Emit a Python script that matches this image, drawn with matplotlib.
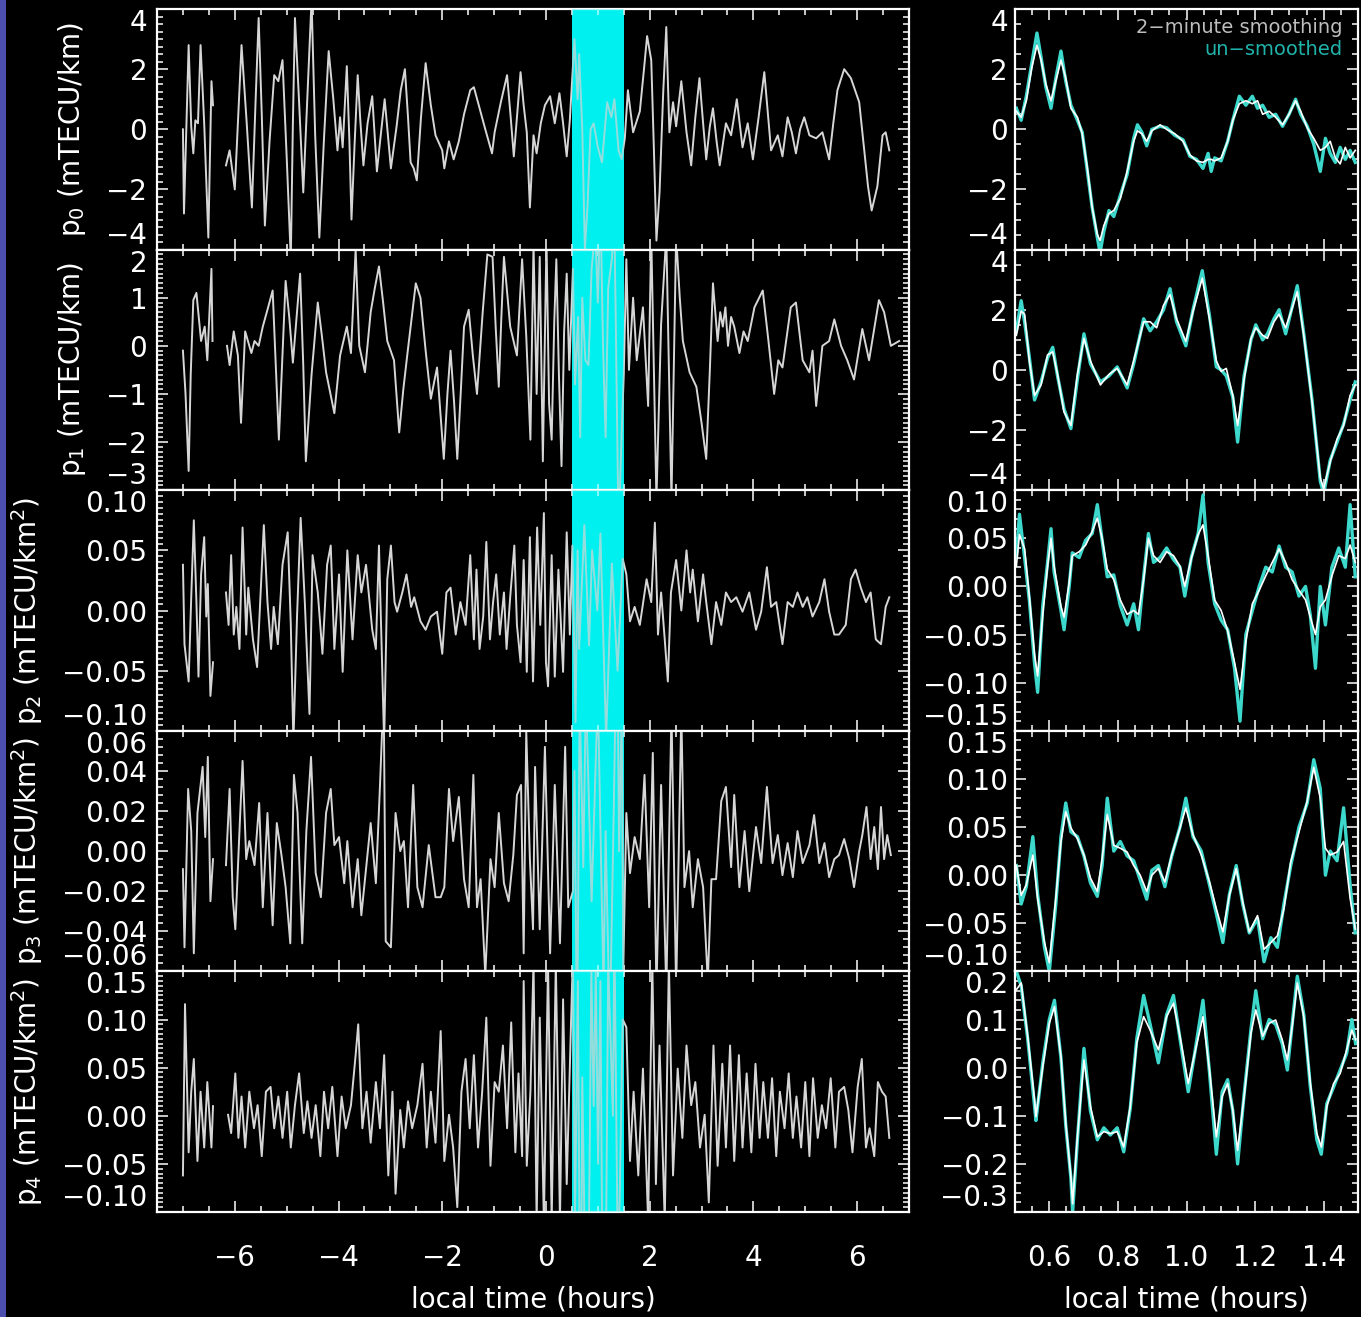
# TEC gradient components p0..p4 : whole night (left) and the 0.5-1.5 h window (right)

import numpy as np
import matplotlib.pyplot as plt
from matplotlib.ticker import MultipleLocator, FuncFormatter
from matplotlib.patches import Rectangle

nan = np.nan

# ------------------------------------------------------------------
# left column: (local time [h], value)
# ------------------------------------------------------------------
p0_left = [
    (-7.00, 0.0), (-6.98, -2.8), (-6.89, 2.8), (-6.84, 0.1), (-6.80, -0.8), (-6.76, 0.3), (-6.71, 0.2),
    (-6.66, 2.8), (-6.59, 0.2), (-6.51, -3.6), (-6.45, 1.6), (-6.42, 0.8), (-6.30, nan),
    (-6.17, -1.2), (-6.10, -0.7), (-6.00, -2.0), (-5.93, 0.6), (-5.87, 2.8), (-5.77, 0.2), (-5.67, -2.6),
    (-5.60, 0.9), (-5.54, 3.7), (-5.48, 0.5), (-5.42, -3.2), (-5.33, -0.4), (-5.24, 1.8), (-5.16, 1.6),
    (-5.08, 2.3), (-5.00, -0.9), (-4.92, -4.3), (-4.88, 0.2), (-4.84, 3.7), (-4.76, 0.9), (-4.68, -2.1),
    (-4.60, 1.1), (-4.52, 4.3), (-4.45, -0.2), (-4.37, -3.6), (-4.28, -0.3), (-4.19, 2.6), (-4.10, 1.0),
    (-4.02, -0.7), (-3.97, 0.4), (-3.92, -0.6), (-3.84, 2.1), (-3.79, -0.4), (-3.75, -3.0), (-3.69, -0.5),
    (-3.63, 1.8), (-3.58, 0.3), (-3.52, -1.2), (-3.44, 0.2), (-3.35, 1.1), (-3.26, -1.4), (-3.18, -0.1),
    (-3.11, 1.0), (-2.99, -1.3), (-2.88, 0.1), (-2.80, 1.3), (-2.72, 2.0), (-2.66, 0.4), (-2.61, -1.1),
    (-2.55, -1.3), (-2.49, -1.7), (-2.41, 0.4), (-2.32, 2.2), (-2.22, 0.8), (-2.13, -0.2), (-2.00, -0.7),
    (-1.96, -1.3), (-1.87, -0.4), (-1.78, -1.0), (-1.68, -0.4), (-1.58, 0.5), (-1.46, 1.3), (-1.39, 1.4),
    (-1.28, 0.7), (-1.17, 0.0), (-1.04, -0.8), (-0.99, -0.1), (-0.87, 0.9), (-0.75, 1.8), (-0.68, 0.4),
    (-0.62, -0.9), (-0.55, 0.6), (-0.49, 1.9), (-0.43, 0.8), (-0.37, -0.1), (-0.31, -2.6), (-0.24, -0.2),
    (-0.18, -0.8), (-0.10, 0.2), (-0.02, 0.8), (0.08, 1.1), (0.17, 0.2), (0.26, 1.2), (0.33, 0.2),
    (0.40, -0.9), (0.46, 0.3),
    (0.55, 3.0), (0.61, 1.0), (0.64, 2.5), (0.70, 0.0), (0.75, -4.0), (0.80, -2.6), (0.86, 0.0),
    (0.92, 0.2), (1.00, -0.6), (1.08, -1.1), (1.18, 0.9), (1.26, 0.4), (1.32, 1.0), (1.40, -0.7),
    (1.46, -1.0), (1.52, -0.3), (1.58, 1.3), (1.68, -0.1), (1.81, 0.6), (1.89, 2.0), (1.95, 3.1),
    (2.03, 2.3), (2.08, -0.6), (2.13, -3.7), (2.19, -2.1), (2.26, 1.2), (2.32, 3.4), (2.38, -0.1),
    (2.45, 0.9), (2.51, 0.1), (2.61, 1.6), (2.71, -0.1), (2.80, -1.2), (2.88, 0.4), (2.96, 1.7),
    (3.03, 0.2), (3.09, -1.0), (3.16, 0.1), (3.22, 0.7), (3.29, -0.4), (3.35, -1.2), (3.47, 0.2),
    (3.57, -0.2), (3.68, 1.0), (3.79, -0.6), (3.89, 0.2), (3.99, -1.0), (4.10, 0.4), (4.21, 1.9),
    (4.28, 0.5), (4.34, -0.7), (4.47, -0.2), (4.56, -0.9), (4.66, 0.4), (4.74, -0.1), (4.82, -0.8),
    (4.90, 0.0), (4.98, 0.4), (5.08, -0.2), (5.21, -0.3), (5.33, -0.1), (5.46, -1.0), (5.54, 0.2),
    (5.62, 1.3), (5.75, 2.0), (5.88, 1.7), (6.04, 0.9), (6.13, -0.6), (6.21, -1.9), (6.28, -2.7),
    (6.39, -1.9), (6.49, -0.2), (6.55, -0.1), (6.62, -0.7),
]

p1_left = [
    (-7.00, -0.1), (-6.95, -1.0), (-6.89, -2.6), (-6.85, -0.6), (-6.80, 0.95), (-6.74, 1.1), (-6.65, 0.1),
    (-6.58, 0.4), (-6.53, -0.3), (-6.45, 1.6), (-6.43, 0.1), (-6.30, nan),
    (-6.15, 0.0), (-6.10, -0.4), (-6.02, 0.3), (-5.94, -0.2), (-5.88, -1.6), (-5.80, 0.3), (-5.68, -0.15),
    (-5.62, 0.1), (-5.54, 0.0), (-5.46, 0.4), (-5.37, 0.75), (-5.27, 1.15), (-5.21, -0.4), (-5.15, -1.95),
    (-5.08, -0.2), (-5.02, 1.35), (-4.95, 0.6), (-4.88, -0.35), (-4.74, 1.5), (-4.68, -0.4), (-4.63, -2.4),
    (-4.52, -0.6), (-4.40, 0.9), (-4.32, 0.2), (-4.24, -0.55), (-4.08, -1.4), (-3.97, -0.2), (-3.84, 0.4),
    (-3.76, -0.15), (-3.67, 2.0), (-3.60, 0.0), (-3.49, -0.55), (-3.38, 0.7), (-3.30, 1.2), (-3.22, 1.65),
    (-3.14, 0.9), (-3.06, 0.1), (-2.93, -0.3), (-2.83, -1.8), (-2.75, -0.9), (-2.67, -0.15), (-2.51, 1.3),
    (-2.42, 1.0), (-2.32, -0.1), (-2.22, -1.1), (-2.10, -0.45), (-1.97, -2.35), (-1.90, -1.0),
    (-1.84, -0.1), (-1.77, -1.2), (-1.71, -2.35), (-1.64, -0.9), (-1.58, 0.4), (-1.49, 0.75), (-1.41, -0.2),
    (-1.33, -1.0), (-1.22, 0.7), (-1.13, 1.9), (-1.03, 1.85), (-0.97, 0.4), (-0.91, -0.85), (-0.86, 0.6),
    (-0.81, 1.85), (-0.69, 0.4), (-0.56, -0.2), (-0.46, 1.8), (-0.38, 0.2), (-0.30, -1.95), (-0.24, 2.1),
    (-0.18, -1.0), (-0.12, 1.85), (-0.06, -2.4), (0.01, 2.2), (0.06, -1.2), (0.11, -1.95), (0.16, 0.5),
    (0.20, 1.8), (0.25, -0.6), (0.30, -2.5), (0.35, 0.3), (0.40, 1.5), (0.45, -0.5),
    (0.52, 1.6), (0.56, -0.8), (0.62, 0.6), (0.66, -1.9), (0.70, 1.0), (0.76, -0.3), (0.82, -0.4),
    (0.88, 1.6), (0.95, 2.4), (1.00, 0.9), (1.05, 3.0), (1.10, 0.0), (1.15, -1.9), (1.20, 1.2),
    (1.27, 1.8), (1.32, 2.6), (1.40, -3.9), (1.46, -1.8), (1.50, -0.6),
    (1.55, 1.8), (1.60, -0.5), (1.68, 1.0), (1.75, -0.3), (1.87, 0.8), (1.97, -1.25), (2.03, 2.3),
    (2.13, -3.2), (2.22, 0.45), (2.32, 2.3), (2.42, -3.2), (2.51, 2.3), (2.58, 1.0), (2.64, 0.1),
    (2.77, -0.55), (2.90, -0.85), (3.00, -1.6), (3.09, -2.35), (3.16, -0.5), (3.22, 1.3), (3.31, 0.1),
    (3.36, 0.7), (3.41, 0.4), (3.46, 0.8), (3.51, 0.0), (3.57, 0.6), (3.63, 0.4), (3.73, -0.15),
    (3.81, 0.3), (3.89, 0.1), (4.02, 0.8), (4.18, 1.15), (4.29, 0.1), (4.40, -1.0), (4.48, -0.3),
    (4.56, -0.45), (4.72, 0.8), (4.82, 0.9), (4.95, -0.3), (5.08, -0.55), (5.14, -0.1), (5.21, -1.25),
    (5.33, 0.0), (5.46, 0.1), (5.56, 0.55), (5.69, 0.0), (5.81, -0.3), (5.94, -0.7), (6.10, 0.35),
    (6.23, -0.3), (6.42, 0.95), (6.52, 0.7), (6.65, 0.0), (6.81, 0.1),
]

p2_left = [
    (-7.00, 0.038), (-6.97, -0.028), (-6.89, -0.059), (-6.84, 0.011), (-6.79, 0.075), (-6.74, 0.007),
    (-6.70, -0.055), (-6.65, 0.030), (-6.59, 0.061), (-6.55, -0.005), (-6.52, 0.022), (-6.47, -0.071),
    (-6.42, -0.043), (-6.30, nan),
    (-6.17, 0.015), (-6.12, -0.012), (-6.07, 0.046), (-6.02, -0.020), (-5.97, 0.003), (-5.91, -0.032),
    (-5.85, 0.069), (-5.78, -0.020), (-5.74, 0.019), (-5.65, -0.024), (-5.57, -0.047), (-5.44, 0.071),
    (-5.37, 0.007), (-5.30, -0.032), (-5.25, 0.003), (-5.17, -0.028), (-5.08, 0.038), (-4.98, 0.065),
    (-4.92, -0.012), (-4.87, -0.110), (-4.80, -0.005), (-4.73, 0.077), (-4.65, 0.007), (-4.56, -0.086),
    (-4.50, 0.046), (-4.40, 0.015), (-4.31, -0.036), (-4.22, 0.038), (-4.15, 0.054), (-4.08, -0.032),
    (-3.99, 0.030), (-3.92, -0.051), (-3.83, 0.050), (-3.73, -0.024), (-3.63, 0.046), (-3.56, 0.015),
    (-3.47, 0.038), (-3.35, -0.016), (-3.28, -0.032), (-3.22, 0.054), (-3.12, -0.110), (-3.06, 0.026),
    (-2.99, 0.054), (-2.92, 0.007), (-2.87, -0.001), (-2.77, 0.015), (-2.69, 0.030), (-2.60, 0.003),
    (-2.54, 0.011), (-2.42, -0.009), (-2.32, -0.016), (-2.22, -0.005), (-2.10, -0.001), (-2.00, -0.036),
    (-1.92, 0.015), (-1.84, 0.019), (-1.74, -0.020), (-1.65, 0.007), (-1.55, -0.012), (-1.46, 0.046),
    (-1.39, -0.024), (-1.34, 0.034), (-1.28, -0.032), (-1.21, -0.005), (-1.15, 0.057), (-1.08, -0.024),
    (-1.02, 0.007), (-0.96, 0.030), (-0.89, -0.020), (-0.81, 0.015), (-0.76, -0.032), (-0.69, 0.011),
    (-0.61, 0.054), (-0.56, -0.012), (-0.49, -0.043), (-0.43, 0.042), (-0.37, -0.051), (-0.31, 0.061),
    (-0.25, -0.059), (-0.17, 0.069), (-0.11, -0.012), (-0.04, 0.081), (0.00, -0.043), (0.04, -0.063),
    (0.11, 0.046), (0.17, -0.055), (0.24, 0.034), (0.33, -0.051), (0.40, 0.065), (0.46, -0.020),
    (0.51, 0.054), (0.57, -0.093), (0.61, 0.050), (0.64, -0.032), (0.74, 0.071), (0.83, -0.029),
    (0.89, 0.050), (0.99, 0.000), (1.05, 0.064), (1.16, -0.107), (1.27, 0.039), (1.38, -0.050),
    (1.48, 0.043),
    (1.55, 0.030), (1.62, -0.009), (1.71, 0.003), (1.81, -0.012), (1.94, 0.026), (2.03, 0.007),
    (2.10, 0.073), (2.16, -0.020), (2.22, 0.015), (2.29, -0.024), (2.35, -0.059), (2.41, 0.015),
    (2.51, 0.042), (2.61, 0.000), (2.71, 0.050), (2.78, 0.015), (2.83, 0.034), (2.93, -0.009),
    (3.03, 0.030), (3.09, 0.007), (3.19, -0.028), (3.28, 0.007), (3.38, -0.012), (3.47, 0.015),
    (3.57, 0.007), (3.67, 0.011), (3.79, -0.001), (3.92, 0.015), (4.05, -0.016), (4.15, -0.001),
    (4.26, 0.036), (4.34, 0.003), (4.44, 0.007), (4.56, -0.028), (4.66, 0.007), (4.76, 0.003),
    (4.85, 0.015), (4.95, 0.003), (5.04, 0.011), (5.14, -0.005), (5.27, 0.007), (5.37, 0.026),
    (5.46, -0.001), (5.56, -0.020), (5.65, -0.020), (5.78, -0.012), (5.88, 0.026), (5.97, 0.034),
    (6.07, 0.019), (6.17, 0.007), (6.26, 0.015), (6.36, -0.024), (6.46, -0.028), (6.55, 0.003),
    (6.62, 0.011),
]

p3_left = [
    (-7.00, -0.009), (-6.97, -0.048), (-6.90, 0.031), (-6.84, 0.010), (-6.79, -0.051), (-6.72, 0.019),
    (-6.66, 0.033), (-6.62, 0.042), (-6.57, 0.007), (-6.52, 0.047), (-6.47, -0.025), (-6.42, -0.004),
    (-6.30, nan),
    (-6.17, -0.007), (-6.10, 0.031), (-6.04, -0.023), (-5.99, -0.039), (-5.91, 0.010), (-5.85, 0.045),
    (-5.78, -0.004), (-5.72, 0.005), (-5.62, -0.007), (-5.53, 0.024), (-5.46, -0.028), (-5.37, 0.019),
    (-5.27, -0.037), (-5.19, 0.014), (-5.10, -0.002), (-5.02, -0.018), (-4.93, -0.046), (-4.86, 0.038),
    (-4.79, 0.019), (-4.70, -0.046), (-4.62, 0.010), (-4.53, 0.047), (-4.44, -0.011), (-4.34, -0.023),
    (-4.24, 0.019), (-4.15, 0.031), (-4.08, 0.003), (-3.99, 0.007), (-3.89, -0.016), (-3.83, 0.005),
    (-3.73, -0.028), (-3.63, -0.004), (-3.56, -0.032), (-3.47, -0.009), (-3.38, 0.014), (-3.28, -0.016),
    (-3.20, 0.033), (-3.13, 0.080), (-3.09, -0.045), (-2.99, -0.048), (-2.90, 0.019), (-2.81, 0.000),
    (-2.74, 0.005), (-2.66, -0.028), (-2.56, 0.033), (-2.48, -0.018), (-2.38, -0.028), (-2.26, 0.003),
    (-2.13, -0.023), (-2.03, -0.023), (-1.96, -0.018), (-1.87, 0.031), (-1.79, 0.005), (-1.68, 0.027),
    (-1.58, -0.014), (-1.49, -0.028), (-1.40, 0.038), (-1.33, -0.028), (-1.26, -0.014), (-1.17, -0.062),
    (-1.07, -0.004), (-0.99, -0.018), (-0.91, 0.019), (-0.81, -0.016), (-0.72, -0.025), (-0.63, -0.002),
    (-0.56, 0.028), (-0.48, 0.033), (-0.43, -0.051), (-0.38, 0.060), (-0.31, -0.004), (-0.25, -0.039),
    (-0.21, 0.042), (-0.12, -0.039), (-0.02, 0.052), (0.08, -0.051), (0.17, 0.033), (0.27, -0.046),
    (0.37, 0.052), (0.43, -0.028),
    (0.52, -0.020), (0.55, 0.040), (0.60, -0.100), (0.65, 0.075), (0.72, -0.008), (0.77, 0.080),
    (0.88, -0.025), (1.00, 0.080), (1.11, -0.070), (1.15, 0.010), (1.23, -0.090), (1.30, 0.010),
    (1.37, 0.120), (1.41, 0.000), (1.46, 0.070), (1.49, -0.060),
    (1.55, 0.019), (1.62, -0.011), (1.71, 0.007), (1.81, -0.004), (1.90, 0.038), (1.99, -0.028),
    (2.06, 0.049), (2.13, -0.070), (2.22, 0.033), (2.32, -0.070), (2.42, 0.070), (2.51, -0.070),
    (2.61, 0.070), (2.67, -0.018), (2.76, 0.000), (2.83, -0.028), (2.93, -0.004), (3.03, -0.018),
    (3.12, -0.065), (3.19, -0.014), (3.28, -0.014), (3.38, 0.025), (3.47, 0.032), (3.57, -0.008),
    (3.63, 0.028), (3.73, -0.018), (3.83, 0.010), (3.92, -0.020), (4.05, 0.012), (4.15, -0.006),
    (4.26, 0.032), (4.37, -0.006), (4.47, 0.008), (4.56, -0.012), (4.66, 0.004), (4.76, -0.013),
    (4.85, 0.010), (4.95, -0.006), (5.08, 0.003), (5.17, 0.018), (5.27, -0.006), (5.37, 0.004),
    (5.46, -0.013), (5.56, -0.004), (5.65, -0.002), (5.75, 0.006), (5.85, -0.004), (5.94, -0.018),
    (6.04, 0.000), (6.10, 0.008), (6.18, 0.022), (6.26, -0.004), (6.33, 0.012), (6.40, -0.009),
    (6.46, 0.022), (6.52, -0.004), (6.58, 0.008), (6.65, -0.002),
]

p4_left = [
    (-7.00, -0.062), (-6.96, 0.116), (-6.89, -0.038), (-6.84, 0.025), (-6.79, 0.059), (-6.72, -0.047),
    (-6.66, 0.025), (-6.59, -0.033), (-6.53, 0.035), (-6.45, -0.033), (-6.42, 0.010), (-6.30, nan),
    (-6.13, 0.001), (-6.07, -0.018), (-5.99, 0.044), (-5.93, -0.023), (-5.87, 0.020), (-5.80, -0.033),
    (-5.72, 0.025), (-5.63, -0.013), (-5.56, 0.011), (-5.48, -0.042), (-5.40, 0.025), (-5.31, 0.030),
    (-5.24, -0.013), (-5.16, 0.020), (-5.08, -0.023), (-4.99, 0.025), (-4.92, -0.033), (-4.84, 0.011),
    (-4.76, 0.044), (-4.67, -0.018), (-4.60, 0.015), (-4.52, -0.023), (-4.44, 0.011), (-4.35, -0.042),
    (-4.28, 0.025), (-4.20, -0.013), (-4.12, 0.030), (-4.02, -0.042), (-3.94, 0.020), (-3.86, -0.013),
    (-3.76, 0.011), (-3.67, 0.063), (-3.62, 0.095), (-3.54, -0.013), (-3.46, 0.025), (-3.38, -0.028),
    (-3.28, 0.035), (-3.20, -0.013), (-3.12, 0.063), (-3.04, -0.062), (-2.96, 0.025), (-2.90, -0.081),
    (-2.81, 0.006), (-2.74, -0.033), (-2.66, 0.015), (-2.58, -0.013), (-2.48, 0.011), (-2.38, 0.054),
    (-2.30, -0.033), (-2.22, 0.025), (-2.13, -0.028), (-2.03, 0.088), (-1.96, -0.047), (-1.87, 0.001),
    (-1.79, -0.033), (-1.71, -0.095), (-1.63, 0.025), (-1.55, 0.059), (-1.47, -0.013), (-1.39, 0.063),
    (-1.31, -0.033), (-1.23, 0.025), (-1.15, 0.102), (-1.07, -0.052), (-0.99, 0.035), (-0.91, 0.025),
    (-0.83, 0.073), (-0.75, -0.013), (-0.67, 0.097), (-0.59, -0.038), (-0.53, 0.044), (-0.46, -0.042),
    (-0.43, 0.140), (-0.37, -0.052), (-0.30, 0.025), (-0.24, 0.160), (-0.18, -0.110), (-0.12, 0.102),
    (-0.04, -0.110), (0.04, 0.160), (0.11, -0.110), (0.19, 0.160), (0.27, -0.110), (0.33, 0.121),
    (0.40, -0.071), (0.46, 0.050),
    (0.52, 0.170), (0.56, -0.110), (0.615, 0.140), (0.668, -0.300), (0.70, 0.040), (0.75, -0.140),
    (0.82, -0.170), (0.875, 0.150), (0.92, 0.010), (0.96, 0.150), (1.005, -0.050), (1.05, 0.140),
    (1.09, -0.180), (1.15, -0.200), (1.20, 0.160), (1.29, 0.000), (1.32, 0.190), (1.39, -0.180),
    (1.48, 0.100),
    (1.55, 0.092), (1.62, -0.047), (1.69, 0.025), (1.78, -0.062), (1.87, 0.049), (1.97, -0.110),
    (2.05, 0.160), (2.12, -0.071), (2.19, 0.073), (2.29, -0.110), (2.37, 0.160), (2.45, -0.062),
    (2.54, 0.049), (2.63, -0.023), (2.71, 0.073), (2.80, 0.011), (2.88, 0.035), (2.97, -0.033),
    (3.06, 0.001), (3.14, -0.090), (3.23, 0.073), (3.31, -0.052), (3.40, 0.054), (3.47, -0.033),
    (3.55, 0.073), (3.63, -0.047), (3.72, 0.063), (3.79, -0.033), (3.87, 0.044), (3.96, -0.038),
    (4.04, 0.054), (4.12, -0.023), (4.19, 0.035), (4.28, -0.023), (4.36, 0.039), (4.44, -0.042),
    (4.51, 0.025), (4.60, -0.013), (4.68, 0.044), (4.76, -0.023), (4.83, 0.020), (4.92, -0.033),
    (5.00, 0.035), (5.08, -0.042), (5.15, 0.039), (5.24, -0.023), (5.32, 0.011), (5.40, -0.013),
    (5.49, 0.039), (5.58, -0.033), (5.65, 0.025), (5.75, 0.030), (5.83, 0.006), (5.91, -0.038),
    (6.01, 0.030), (6.09, 0.059), (6.17, -0.033), (6.24, -0.013), (6.33, -0.042), (6.40, 0.035),
    (6.48, 0.025), (6.55, 0.020), (6.62, -0.023),
]

# ------------------------------------------------------------------
# right column: (local time [h], 2-minute smoothed, un-smoothed)
# ------------------------------------------------------------------
p0_right = [
    (0.504, 0.60, 0.70), (0.518, 0.40, 0.30), (0.533, 0.95, 1.10), (0.549, 2.05, 2.20), (0.564, 2.80, 3.20),
    (0.576, 2.30, 2.40), (0.590, 1.50, 1.40), (0.605, 0.95, 0.70), (0.619, 1.60, 1.70), (0.634, 2.30, 2.60),
    (0.648, 1.70, 1.60), (0.663, 0.70, 0.80), (0.682, 0.40, 0.30), (0.696, -0.15, -0.10), (0.711, -1.30, -1.40),
    (0.725, -2.60, -2.60), (0.740, -3.50, -3.60), (0.748, -3.70, -4.10), (0.759, -3.20, -3.40),
    (0.774, -2.80, -2.70), (0.788, -2.70, -2.90), (0.807, -2.30, -2.20), (0.827, -1.40, -1.50),
    (0.846, -0.40, -0.30), (0.857, -0.05, 0.15), (0.870, -0.15, -0.10), (0.884, -0.40, -0.55),
    (0.899, -0.05, 0.00), (0.923, 0.15, 0.10), (0.942, 0.00, 0.05), (0.966, -0.15, -0.20),
    (0.990, -0.40, -0.35), (1.010, -0.85, -0.90), (1.029, -1.05, -1.00), (1.048, -1.10, -1.30),
    (1.063, -1.00, -0.80), (1.072, -1.00, -1.40), (1.082, -1.05, -0.95), (1.101, -0.95, -1.05),
    (1.120, -0.40, -0.40), (1.135, 0.30, 0.30), (1.154, 0.85, 1.10), (1.173, 0.95, 0.80),
    (1.192, 0.85, 1.10), (1.207, 0.95, 0.70), (1.222, 0.50, 0.80), (1.241, 0.60, 0.40), (1.260, 0.40, 0.50),
    (1.280, 0.15, 0.10), (1.299, 0.50, 0.50), (1.318, 0.95, 1.00), (1.333, 0.60, 0.50), (1.352, 0.05, 0.10),
    (1.371, -0.30, -0.50), (1.390, -0.70, -1.40), (1.405, -0.60, -0.30), (1.419, -0.40, -0.80),
    (1.434, -0.95, -1.10), (1.448, -1.15, -0.60), (1.463, -0.60, -1.00), (1.477, -0.95, -0.70),
    (1.492, -0.70, -1.10),
]

p1_right = [
    (0.504, 1.15, 1.30), (0.518, 1.95, 2.30), (0.528, 1.85, 1.60), (0.542, 0.30, 0.40), (0.557, -0.85, -1.00),
    (0.576, -0.50, -0.40), (0.595, 0.50, 0.40), (0.610, 0.60, 0.75), (0.624, -0.15, -0.20), (0.643, -1.40, -1.30),
    (0.663, -1.85, -1.95), (0.682, -0.15, -0.30), (0.701, 1.05, 1.20), (0.720, 0.30, 0.20), (0.749, -0.50, -0.40),
    (0.774, -0.15, -0.20), (0.798, 0.05, 0.10), (0.827, -0.50, -0.60), (0.846, 0.30, 0.20), (0.875, 1.60, 1.70),
    (0.894, 1.60, 1.30), (0.913, 1.40, 1.60), (0.933, 2.15, 2.00), (0.952, 2.50, 2.70), (0.971, 1.70, 1.60),
    (0.998, 0.95, 0.80), (1.019, 1.95, 2.00), (1.046, 3.05, 3.30), (1.067, 1.70, 1.80), (1.087, 0.30, 0.10),
    (1.101, -0.05, 0.00), (1.116, 0.05, -0.20), (1.135, -0.85, -0.90), (1.149, -1.85, -2.40),
    (1.168, -0.30, -0.20), (1.188, 1.05, 1.00), (1.202, 1.40, 1.50), (1.222, 1.15, 1.00), (1.236, 1.05, 1.20),
    (1.255, 1.60, 1.70), (1.270, 1.85, 2.00), (1.289, 1.40, 1.20), (1.308, 2.05, 2.10), (1.323, 2.60, 2.80),
    (1.342, 1.15, 1.20), (1.366, -1.05, -1.00), (1.390, -3.60, -3.70), (1.400, -3.95, -4.10),
    (1.419, -3.05, -3.00), (1.439, -2.30, -2.40), (1.458, -1.85, -1.80), (1.477, -0.85, -1.00),
    (1.492, -0.50, -0.40),
]

p2_right = [
    (0.504, 0.021, 0.030), (0.513, 0.054, 0.075), (0.528, 0.039, 0.030), (0.542, -0.011, -0.015),
    (0.557, -0.071, -0.080), (0.566, -0.093, -0.110), (0.581, -0.029, -0.020), (0.595, 0.021, 0.025),
    (0.605, 0.050, 0.060), (0.614, 0.021, 0.015), (0.634, -0.021, -0.025), (0.643, -0.032, -0.045),
    (0.658, 0.004, 0.000), (0.667, 0.032, 0.035), (0.687, 0.036, 0.030), (0.706, 0.043, 0.048),
    (0.725, 0.057, 0.055), (0.740, 0.071, 0.085), (0.754, 0.050, 0.048), (0.769, 0.018, 0.010),
    (0.788, 0.007, 0.012), (0.807, -0.014, -0.020), (0.827, -0.029, -0.040), (0.846, -0.025, -0.018),
    (0.860, -0.029, -0.045), (0.875, 0.007, 0.010), (0.889, 0.050, 0.055), (0.904, 0.032, 0.025),
    (0.923, 0.025, 0.030), (0.942, 0.036, 0.040), (0.962, 0.032, 0.028), (0.981, 0.021, 0.020),
    (0.995, 0.000, -0.010), (1.014, 0.029, 0.030), (1.034, 0.054, 0.055), (1.048, 0.064, 0.095),
    (1.063, 0.032, 0.025), (1.082, -0.014, -0.018), (1.101, -0.025, -0.035), (1.120, -0.046, -0.045),
    (1.140, -0.079, -0.085), (1.156, -0.107, -0.140), (1.173, -0.057, -0.050), (1.192, -0.018, -0.025),
    (1.212, -0.004, 0.000), (1.231, 0.011, 0.020), (1.250, 0.025, 0.015), (1.270, 0.039, 0.042),
    (1.289, 0.025, 0.020), (1.308, 0.007, 0.015), (1.328, -0.004, -0.010), (1.347, -0.014, 0.000),
    (1.361, -0.032, -0.030), (1.376, -0.050, -0.085), (1.390, -0.021, 0.000), (1.405, -0.014, -0.040),
    (1.424, 0.011, 0.020), (1.444, 0.032, 0.040), (1.463, 0.029, 0.020), (1.477, 0.043, 0.085),
    (1.492, 0.025, 0.010),
]

p3_right = [
    (0.504, 0.010, 0.010), (0.518, -0.021, -0.030), (0.533, -0.010, -0.012), (0.552, 0.021, 0.040),
    (0.566, -0.024, -0.020), (0.586, -0.070, -0.075), (0.600, -0.091, -0.100), (0.619, -0.024, -0.030),
    (0.634, 0.035, 0.040), (0.648, 0.066, 0.075), (0.663, 0.049, 0.045), (0.682, 0.038, 0.040),
    (0.701, 0.021, 0.020), (0.720, -0.003, -0.008), (0.740, -0.017, -0.022), (0.754, 0.017, 0.010),
    (0.769, 0.063, 0.080), (0.788, 0.031, 0.025), (0.807, 0.028, 0.035), (0.827, 0.024, 0.020),
    (0.846, 0.010, 0.015), (0.865, 0.000, -0.005), (0.884, -0.017, -0.025), (0.899, 0.000, 0.005),
    (0.918, 0.007, 0.010), (0.937, -0.007, -0.012), (0.957, 0.021, 0.020), (0.981, 0.049, 0.050),
    (0.998, 0.070, 0.080), (1.019, 0.042, 0.040), (1.043, 0.021, 0.025), (1.067, -0.007, -0.010),
    (1.087, -0.035, -0.040), (1.106, -0.059, -0.070), (1.125, -0.021, -0.020), (1.145, 0.007, 0.010),
    (1.164, -0.028, -0.030), (1.183, -0.059, -0.060), (1.207, -0.042, -0.045), (1.226, -0.077, -0.090),
    (1.246, -0.070, -0.065), (1.265, -0.063, -0.075), (1.284, -0.035, -0.030), (1.304, 0.014, 0.010),
    (1.328, 0.045, 0.050), (1.352, 0.077, 0.075), (1.371, 0.112, 0.120), (1.390, 0.080, 0.090),
    (1.405, 0.028, 0.000), (1.419, 0.021, 0.025), (1.439, 0.024, 0.015), (1.458, 0.035, 0.070),
    (1.477, -0.024, -0.010), (1.492, -0.056, -0.060),
]

p4_right = [
    (0.504, 0.162, 0.200), (0.518, 0.176, 0.170), (0.537, 0.065, 0.060), (0.557, -0.067, -0.080),
    (0.561, -0.102, -0.110), (0.581, 0.002, 0.010), (0.600, 0.092, 0.100), (0.615, 0.127, 0.140),
    (0.634, 0.023, 0.020), (0.648, -0.116, -0.120), (0.663, -0.227, -0.230), (0.668, -0.283, -0.300),
    (0.682, -0.144, -0.150), (0.701, 0.016, 0.040), (0.720, -0.081, -0.090), (0.740, -0.144, -0.150),
    (0.759, -0.133, -0.125), (0.778, -0.137, -0.140), (0.798, -0.133, -0.125), (0.817, -0.165, -0.175),
    (0.836, -0.081, -0.085), (0.855, 0.051, 0.060), (0.875, 0.106, 0.150), (0.894, 0.078, 0.090),
    (0.918, 0.037, 0.010), (0.942, 0.106, 0.110), (0.962, 0.134, 0.150), (0.981, 0.065, 0.060),
    (1.005, -0.033, -0.050), (1.024, 0.030, 0.030), (1.048, 0.106, 0.140), (1.067, -0.005, -0.010),
    (1.087, -0.144, -0.180), (1.104, -0.060, -0.050), (1.120, -0.033, -0.025), (1.135, -0.088, -0.090),
    (1.149, -0.172, -0.200), (1.168, -0.060, -0.055), (1.188, 0.072, 0.080), (1.202, 0.120, 0.160),
    (1.222, 0.065, 0.060), (1.241, 0.092, 0.100), (1.260, 0.099, 0.090), (1.279, 0.058, 0.050),
    (1.294, 0.016, -0.005), (1.308, 0.085, 0.090), (1.323, 0.176, 0.190), (1.342, 0.106, 0.110),
    (1.361, -0.033, -0.040), (1.380, -0.137, -0.150), (1.393, -0.165, -0.180), (1.409, -0.081, -0.075),
    (1.429, -0.033, -0.040), (1.448, -0.012, -0.005), (1.467, 0.037, 0.030), (1.482, 0.078, 0.100),
    (1.493, 0.058, 0.050),
]

left_series = [p0_left, p1_left, p2_left, p3_left, p4_left]
right_series = [p0_right, p1_right, p2_right, p3_right, p4_right]

ylabels = [r'p$_0$ (mTECU/km)', r'p$_1$ (mTECU/km)', r'p$_2$ (mTECU/km$^2$)',
           r'p$_3$ (mTECU/km$^2$)', r'p$_4$ (mTECU/km$^2$)']

left_ylim = [(-4, 4), (-3, 2), (-0.10, 0.10), (-0.06, 0.06), (-0.10, 0.15)]
left_major = [2, 1, 0.05, 0.02, 0.05]
left_minor = [0.25, 0.1, 0.005, 0.004, 0.005]
left_fmt = ['{:.0f}', '{:.0f}', '{:.2f}', '{:.2f}', '{:.2f}']

right_ylim = [(-4, 4), (-4, 4), (-0.15, 0.10), (-0.10, 0.15), (-0.3, 0.2)]
right_major = [2, 2, 0.05, 0.05, 0.1]
right_minor = [0.5, 0.5, 0.01, 0.01, 0.02]
right_fmt = ['{:.0f}', '{:.0f}', '{:.2f}', '{:.2f}', '{:.1f}']

band = (0.5, 1.5)

# colours
BG = 'black'
LINE = '#d6d6d6'
BAND = '#00f0f0'
RAW = '#3cd8cc'
TXT = 'white'


def tick_fmt(f):
    def _f(v, pos):
        s = f.format(round(v, 6) + 0.0)
        if s.lstrip('-').strip('0.') == '':
            s = s.lstrip('-')
        return s.replace('-', '\u2212')
    return FuncFormatter(_f)


def style_axis(ax):
    ax.set_facecolor(BG)
    for sp in ax.spines.values():
        sp.set_color(TXT)
        sp.set_linewidth(1.6)
    ax.tick_params(which='both', direction='in', top=True, right=True,
                   colors=TXT, labelcolor=TXT, labelsize=20, width=1.1)
    ax.tick_params(which='major', length=8)
    ax.tick_params(which='minor', length=4)
    ax.tick_params(axis='y', pad=7)
    ax.tick_params(axis='x', pad=23)


W, H = 1361, 1317
fig = plt.figure(figsize=(W / 100, H / 100), dpi=100, facecolor=BG)
plt.rcParams['font.family'] = 'DejaVu Sans'

# slide background peeking in on the far left
fig.patches.append(Rectangle((0, 0), 6 / W, 1, transform=fig.transFigure,
                             facecolor='#4c4fae', edgecolor='none'))

all_axes = []
row_h = 240.6
for i in range(5):
    top = 9 + i * row_h
    bottom = 1 - (top + row_h) / H

    # ---- left: full night ----
    ax = fig.add_axes([157 / W, bottom, 752 / W, row_h / H])
    style_axis(ax)
    d = np.array(left_series[i], dtype=float)
    ax.axvspan(band[0], band[1], color=BAND, lw=0, zorder=1)
    ax.plot(d[:, 0], d[:, 1], color=LINE, lw=1.4, zorder=2, solid_joinstyle='round')
    # tint the trace where it crosses the cyan window
    ax.axvspan(band[0], band[1], color=BAND, alpha=0.3, lw=0, zorder=3)
    ax.set_xlim(-7.5, 7.0)
    ax.set_ylim(*left_ylim[i])
    ax.xaxis.set_major_locator(MultipleLocator(2))
    ax.xaxis.set_minor_locator(MultipleLocator(0.5))
    ax.yaxis.set_major_locator(MultipleLocator(left_major[i]))
    ax.yaxis.set_minor_locator(MultipleLocator(left_minor[i]))
    ax.yaxis.set_major_formatter(tick_fmt(left_fmt[i]))
    ax.xaxis.set_major_formatter(tick_fmt('{:.0f}'))
    ax.set_ylabel(ylabels[i], color=TXT, fontsize=20)
    ax.yaxis.set_label_coords(-0.092 if i < 2 else -0.149, 0.5)
    if i < 4:
        ax.tick_params(axis='x', labelbottom=False)
    else:
        ax.set_xlabel('local time (hours)', color=TXT, fontsize=20)
        ax.xaxis.set_label_coords(0.5, -0.304)

    # ---- right: 0.5-1.5 h zoom ----
    ar = fig.add_axes([1015 / W, bottom, 343 / W, row_h / H])
    style_axis(ar)
    r = np.array(right_series[i], dtype=float)
    ar.plot(r[:, 0], r[:, 2], color=RAW, lw=2.4, zorder=2)
    ar.plot(r[:, 0], r[:, 1], color='white', lw=1.2, zorder=3)
    ar.set_xlim(*band)
    ar.set_ylim(*right_ylim[i])
    ar.xaxis.set_major_locator(MultipleLocator(0.2))
    ar.xaxis.set_minor_locator(MultipleLocator(0.05))
    ar.yaxis.set_major_locator(MultipleLocator(right_major[i]))
    ar.yaxis.set_minor_locator(MultipleLocator(right_minor[i]))
    ar.yaxis.set_major_formatter(tick_fmt(right_fmt[i]))
    ar.xaxis.set_major_formatter(tick_fmt('{:.1f}'))
    ar.tick_params(axis='y', pad=5)
    if i < 4:
        ar.tick_params(axis='x', labelbottom=False)
    else:
        ar.set_xlabel('local time (hours)', color=TXT, fontsize=20)
        ar.xaxis.set_label_coords(0.5, -0.304)

    if i == 0:
        ar.text(0.955, 0.925, '2\u2212minute smoothing', transform=ar.transAxes,
                ha='right', va='center', color='#bdbdbd', fontsize=14)
        ar.text(0.955, 0.83, 'un\u2212smoothed', transform=ar.transAxes,
                ha='right', va='center', color='#1fb3aa', fontsize=14)

    all_axes += [ax, ar]

# labels sitting on the panel edges are pushed inside the panel, as in the original
fig.canvas.draw()
for a in all_axes:
    lo, hi = a.get_ylim()
    tol = 1e-6 * (hi - lo)
    for t in a.yaxis.get_major_ticks():
        loc = t.get_loc()
        if abs(loc - hi) < tol:
            t.label1.set_va('top')
        elif abs(loc - lo) < tol:
            t.label1.set_va('bottom')

fig.savefig('out.png', dpi=100, facecolor=BG)
